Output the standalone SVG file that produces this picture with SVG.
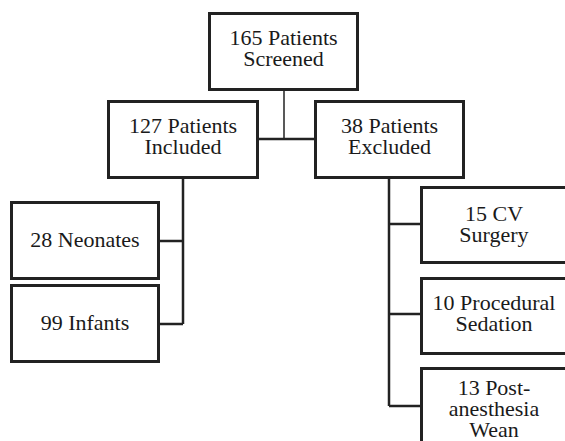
<svg xmlns="http://www.w3.org/2000/svg" width="565" height="441" viewBox="0 0 565 441">
<style>
.box{fill:#fff;stroke:#222;stroke-width:3}
.t{font-family:'Liberation Serif','Times New Roman',serif;font-size:22px;fill:#1a1a1a;text-anchor:middle}
.c{fill:none;stroke:#222;stroke-width:2.5}
.thin{stroke-width:1.5}
</style>
<rect width="565" height="441" fill="#fff"/>
<g id="connectors">
<path class="c thin" d="M284 89V139"/>
<path class="c" d="M258 139H315"/>
<path class="c" d="M183 177V324M159 241H183M159 324H183"/>
<path class="c" d="M389 177V406M389 224H421M389 314H421M389 406H421"/>
</g>
<g id="screened"><rect class="box" x="209.5" y="13.5" width="148" height="76"/><text class="t" x="283.5" y="45">165 Patients</text><text class="t" x="283.5" y="66">Screened</text></g>
<g id="included"><rect class="box" x="108.5" y="101.5" width="149" height="76"/><text class="t" x="183" y="133">127 Patients</text><text class="t" x="183" y="154">Included</text></g>
<g id="excluded"><rect class="box" x="315.5" y="101.5" width="148" height="76"/><text class="t" x="389.5" y="133">38 Patients</text><text class="t" x="389.5" y="154">Excluded</text></g>
<g id="neonates"><rect class="box" x="11.5" y="202.5" width="147" height="76"/><text class="t" x="85" y="247">28 Neonates</text></g>
<g id="infants"><rect class="box" x="11.5" y="285.5" width="147" height="76"/><text class="t" x="85" y="330">99 Infants</text></g>
<g id="cv"><rect class="box" x="421.5" y="187.5" width="148" height="75"/><text class="t" x="494" y="221">15 CV</text><text class="t" x="494" y="242">Surgery</text></g>
<g id="procedural"><rect class="box" x="421.5" y="278.5" width="148" height="75"/><text class="t" x="494" y="310">10 Procedural</text><text class="t" x="494" y="331">Sedation</text></g>
<g id="postanesthesia"><rect class="box" x="421.5" y="368.5" width="148" height="80"/><text class="t" x="494" y="395">13 Post-</text><text class="t" x="494" y="416">anesthesia</text><text class="t" x="494" y="437">Wean</text></g>
</svg>
